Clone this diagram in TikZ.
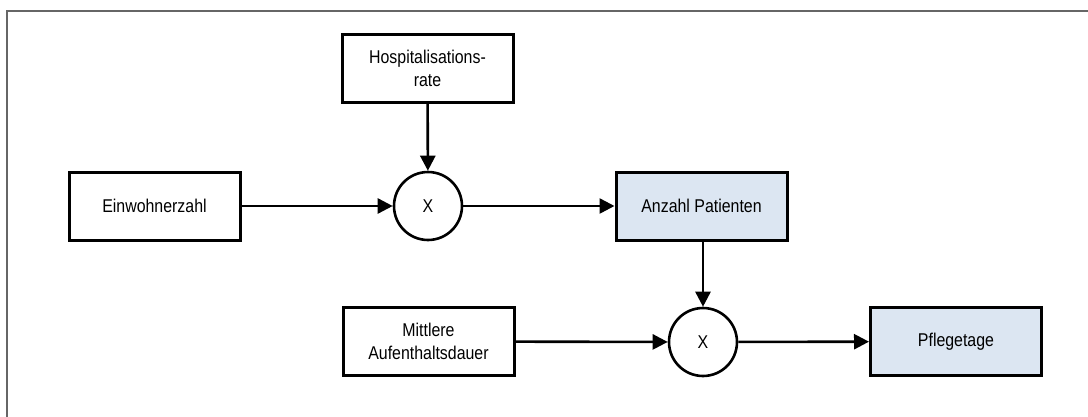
\documentclass[tikz,border=0pt]{standalone}
\usepackage{fontspec}
\setmainfont[FakeStretch=0.86]{Liberation Sans}
\usetikzlibrary{arrows.meta}
\definecolor{frameg}{HTML}{666666}
\definecolor{lightblue}{HTML}{DCE6F2}
\tikzset{
  box/.style={draw=black, line width=3pt, minimum width=171pt, minimum height=68pt, inner sep=0pt, align=center, font=\fontsize{18.5}{23}\selectfont},
  resultbox/.style={box, fill=lightblue},
  mult/.style={draw=black, line width=2.6pt, circle, minimum size=68pt, inner sep=0pt, font=\fontsize{18.5}{23}\selectfont},
  conn/.style={line width=2.6pt, -{Triangle[length=15pt,width=15pt]}}
}
\begin{document}
\begin{tikzpicture}[x=1pt,y=-1pt]
\useasboundingbox (0,0) rectangle (1088,416);
\draw[frameg, line width=2.4pt] (1090,11) -- (7,11) -- (7,418);
\node[box] (hosp) at (427.5,68.5) {Hospitalisations-\\rate};
\node[box] (einw) at (154.5,206) {Einwohnerzahl};
\node[mult] (m1) at (428,206) {X};
\node[resultbox] (anz) at (701.5,206) {Anzahl Patienten};
\node[box] (mitt) at (428.5,341.5) {Mittlere\\Aufenthaltsdauer};
\node[mult] (m2) at (703,342) {X};
\node[resultbox] (pfl) at (956,341.5) {Pflegetage};
\draw[conn] (hosp) -- (m1);
\draw[conn] (einw) -- (m1);
\draw[conn] (m1) -- (anz);
\draw[conn] (anz.south -| m2) -- (m2);
\draw[conn] (mitt) -- (m2);
\draw[conn] (m2) -- (pfl);
\end{tikzpicture}
\end{document}
